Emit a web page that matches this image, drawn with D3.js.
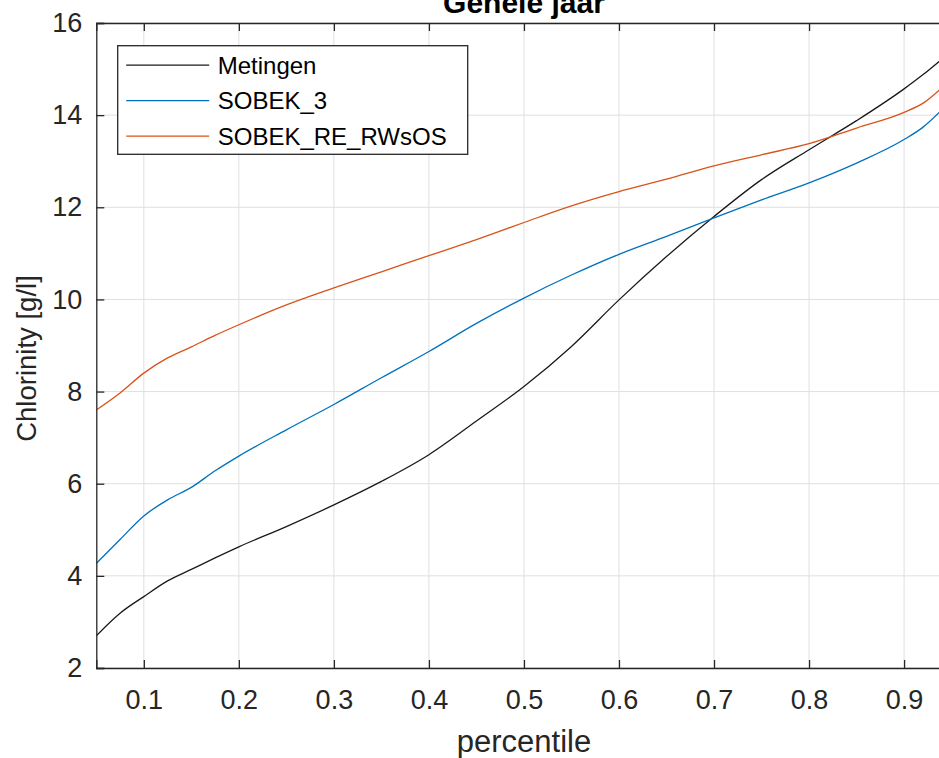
<!DOCTYPE html>
<html lang="nl">
<head>
    <meta charset="UTF-8">
    <title>Gehele jaar</title>
    <script src="https://d3js.org/d3.v7.min.js"></script>
    <style>
        body {
            margin: 0;
            background: #fff;
            font-family: "Liberation Sans", Arial, sans-serif;
        }
        svg {
            display: block;
        }
        .tick text {
            fill: #262626;
        }
    </style>
</head>
<body>
    <div id="chart"></div>

    <script>
        // Data
        const percentiles = [0.05, 0.075, 0.1, 0.125, 0.15, 0.175, 0.2, 0.25, 0.3, 0.35, 0.4, 0.45, 0.5,
                             0.55, 0.6, 0.65, 0.7, 0.75, 0.8, 0.85, 0.9, 0.92, 0.94];
        const metingen = [2.70, 3.19, 3.55, 3.89, 4.14, 4.39, 4.63, 5.07, 5.54, 6.05, 6.63, 7.36, 8.11,
                          8.98, 9.99, 10.93, 11.80, 12.60, 13.25, 13.88, 14.57, 14.88, 15.22];
        const sobek3 = [4.27, 4.79, 5.30, 5.65, 5.92, 6.28, 6.60, 7.17, 7.72, 8.30, 8.87, 9.48, 10.03,
                        10.53, 10.98, 11.37, 11.77, 12.16, 12.53, 12.96, 13.47, 13.74, 14.12];
        const sobekRE = [7.60, 7.97, 8.40, 8.73, 8.97, 9.22, 9.45, 9.88, 10.25, 10.60, 10.95, 11.30, 11.67,
                         12.03, 12.34, 12.61, 12.90, 13.14, 13.38, 13.72, 14.06, 14.26, 14.60];
        const seriesNames = ["Metingen", "SOBEK_3", "SOBEK_RE_RWsOS"];
        const xTicks = [0.1, 0.2, 0.3, 0.4, 0.5, 0.6, 0.7, 0.8, 0.9];
        const yTicks = [2, 4, 6, 8, 10, 12, 14, 16];

        const colors = ["#1a1a1a", "#0072BD", "#D95319"];
        const axisColor = "#262626";

        // Plot box (right edge falls outside the 939px window)
        const W = 939, H = 758;
        const margin = { top: 23, left: 96.3 };
        const plotW = 855.3;
        const plotH = 645;

        const svg = d3.select("#chart")
            .append("svg")
            .attr("width", W)
            .attr("height", H);

        const g = svg.append("g")
            .attr("transform", `translate(${margin.left},${margin.top})`);

        const x = d3.scaleLinear().domain([0.05, 0.95]).range([0, plotW]);
        const y = d3.scaleLinear().domain([2, 16]).range([plotH, 0]);

        // grid
        g.append("g")
            .selectAll("line")
            .data(xTicks)
            .join("line")
            .attr("x1", d => x(d)).attr("x2", d => x(d))
            .attr("y1", 0).attr("y2", plotH)
            .attr("stroke", "#dfdfdf").attr("stroke-width", 1);

        g.append("g")
            .selectAll("line")
            .data(yTicks)
            .join("line")
            .attr("x1", 0).attr("x2", plotW)
            .attr("y1", d => y(d)).attr("y2", d => y(d))
            .attr("stroke", "#dfdfdf").attr("stroke-width", 1);

        // clip
        svg.append("defs").append("clipPath").attr("id", "clip")
            .append("rect").attr("width", plotW).attr("height", plotH);

        const series = [metingen, sobek3, sobekRE];
        const line = d3.line()
            .x((d, i) => x(percentiles[i]))
            .y(d => y(d))
            .curve(d3.curveMonotoneX);

        g.append("g")
            .attr("clip-path", "url(#clip)")
            .selectAll("path")
            .data(series)
            .join("path")
            .attr("d", d => line(d))
            .attr("fill", "none")
            .attr("stroke", (d, i) => colors[i])
            .attr("stroke-width", 1.3);

        // axes (ticks pointing inward, box on)
        const fmt = d3.format(".1f");
        const xAxis = g.append("g")
            .attr("transform", `translate(0,${plotH})`)
            .call(d3.axisBottom(x).tickValues(xTicks).tickSize(-8).tickPadding(22).tickFormat(fmt));
        const xTop = g.append("g")
            .call(d3.axisTop(x).tickValues(xTicks).tickSize(-8).tickFormat(""));
        const yAxis = g.append("g")
            .call(d3.axisLeft(y).tickValues(yTicks).tickSize(-8).tickPadding(14));

        [xAxis, xTop, yAxis].forEach(a => {
            a.select(".domain").attr("stroke", axisColor).attr("stroke-width", 1.3);
            a.selectAll(".tick line").attr("stroke", axisColor).attr("stroke-width", 1.3);
            a.selectAll(".tick text")
                .attr("font-size", 27)
                .attr("font-family", "'Liberation Sans', Arial, sans-serif");
        });
        xAxis.selectAll(".tick text").attr("dy", "0.71em");

        // axis labels and title
        g.append("text")
            .attr("x", plotW / 2)
            .attr("y", plotH + 84)
            .attr("text-anchor", "middle")
            .attr("font-size", 31)
            .attr("fill", axisColor)
            .text("percentile");

        g.append("text")
            .attr("transform", "rotate(-90)")
            .attr("x", -plotH / 2 - 13)
            .attr("y", -margin.left + 36)
            .attr("text-anchor", "middle")
            .attr("font-size", 27.5)
            .attr("fill", axisColor)
            .text("Chlorinity [g/l]");

        g.append("text")
            .attr("x", plotW / 2)
            .attr("y", -10)
            .attr("text-anchor", "middle")
            .attr("font-size", 30)
            .attr("font-weight", "bold")
            .attr("fill", "#000")
            .text("Gehele jaar");

        // legend
        const legend = svg.append("g").attr("transform", "translate(117.7,45.7)");
        legend.append("rect")
            .attr("width", 350)
            .attr("height", 108.6)
            .attr("fill", "#fff")
            .attr("stroke", axisColor)
            .attr("stroke-width", 1.3);

        seriesNames.forEach((name, i) => {
            const yy = 19.5 + i * 35.5;
            legend.append("line")
                .attr("x1", 8.5).attr("x2", 91.5)
                .attr("y1", yy).attr("y2", yy)
                .attr("stroke", colors[i])
                .attr("stroke-width", 1.3);
            legend.append("text")
                .attr("x", 100)
                .attr("y", yy)
                .attr("dy", "0.35em")
                .attr("font-size", 24)
                .attr("fill", "#000")
                .text(name);
        });
    </script>
</body>
</html>
